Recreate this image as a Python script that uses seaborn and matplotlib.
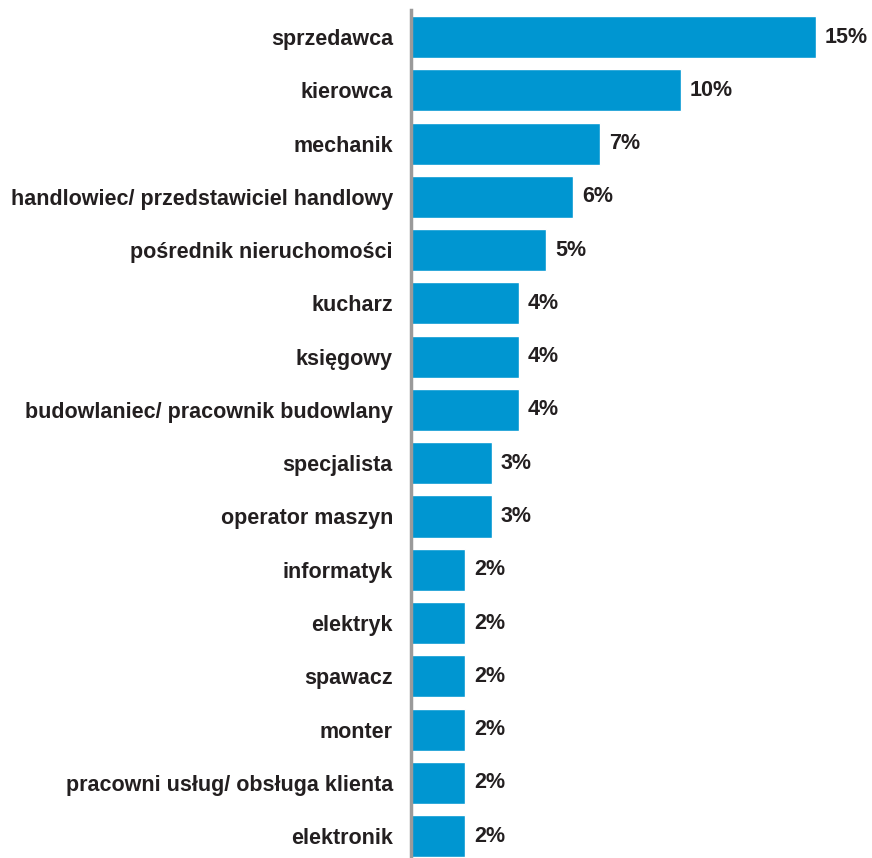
import matplotlib
matplotlib.use("Agg")
import matplotlib.pyplot as plt
import seaborn as sns
import pandas as pd

categories = [
    "sprzedawca", "kierowca", "mechanik", "handlowiec/ przedstawiciel handlowy",
    "pośrednik nieruchomości", "kucharz", "księgowy",
    "budowlaniec/ pracownik budowlany", "specjalista", "operator maszyn",
    "informatyk", "elektryk", "spawacz", "monter",
    "pracowni usług/ obsługa klienta", "elektronik",
]
values = [15, 10, 7, 6, 5, 4, 4, 4, 3, 3, 2, 2, 2, 2, 2, 2]

df = pd.DataFrame({"zawod": categories, "udzial": values})

sns.set_theme(style="white")
plt.rcParams["font.family"] = ["Liberation Sans", "DejaVu Sans"]

W, H = 872, 858
fig = plt.figure(figsize=(W / 100, H / 100), dpi=100)
ax = fig.add_axes([411 / W, 0, (860 - 411) / W, (858 - 10) / H])

sns.barplot(data=df, y="zawod", x="udzial", orient="h", color="#0096D1",
            saturation=1, width=0.79, ax=ax)

ax.set_xlim(0, 449 / 27)
ax.set_ylim(15.41, -0.507)
ax.set_xlabel("")
ax.set_ylabel("")
ax.set_xticks([])

for s in ["top", "right", "bottom"]:
    ax.spines[s].set_visible(False)
ax.spines["left"].set_color("#9A9A9A")
ax.spines["left"].set_linewidth(2.5)

ax.tick_params(axis="y", length=0, pad=13)
for lbl in ax.get_yticklabels():
    lbl.set_fontsize(15.5)
    lbl.set_fontweight("bold")
    lbl.set_color("#231F20")

for i, v in enumerate(values):
    ax.text(v + 0.33, i, f"{v}%", va="center", ha="left",
            fontsize=15.5, fontweight="bold", color="#231F20")

fig.savefig("out.png", dpi=100)
